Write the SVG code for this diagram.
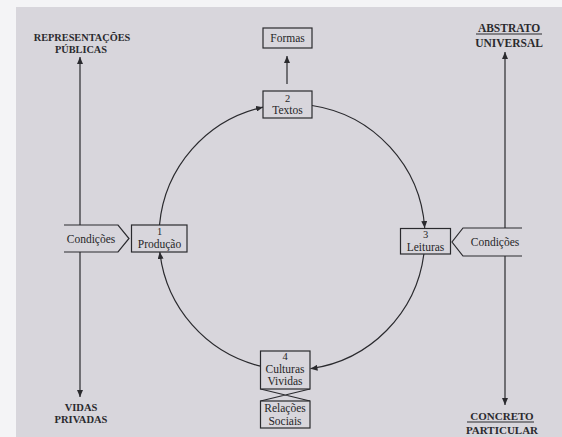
<svg xmlns="http://www.w3.org/2000/svg" width="562" height="437" viewBox="0 0 562 437">
<style>
.ln{fill:none;stroke:#2a2a2e;stroke-width:1.2}
.bx{fill:#d8d6dc;stroke:#2a2a2e;stroke-width:1.2}
.t{font-family:"Liberation Serif","Times New Roman",serif;font-size:11.5px;fill:#262628;text-anchor:middle}
.n{font-family:"Liberation Serif","Times New Roman",serif;font-size:10.5px;fill:#262628;text-anchor:middle}
.c{font-family:"Liberation Serif","Times New Roman",serif;font-weight:bold;fill:#2a2a2e;text-anchor:middle}
</style>
<defs>
<marker id="ah" markerUnits="userSpaceOnUse" markerWidth="8" markerHeight="6" refX="7" refY="3" orient="auto">
<path d="M0,0 L7,3 L0,6 z" fill="#2a2a2e"/>
</marker>
</defs>
<rect x="0" y="0" width="562" height="437" fill="#f4f4f6"/>
<rect x="16" y="7" width="546" height="430" fill="#d8d6dc"/>

<g id="connectors">
<path class="ln" d="M159.5,225 A133,133 0 0 1 263,107.2" marker-end="url(#ah)"/>
<path class="ln" d="M312,105.5 A133,133 0 0 1 424.7,228" marker-end="url(#ah)"/>
<path class="ln" d="M423.9,254 A133,133 0 0 1 310.5,368.7" marker-end="url(#ah)"/>
<path class="ln" d="M260.5,366.2 A133,133 0 0 1 159.8,252" marker-end="url(#ah)"/>
<path class="ln" d="M287,84 L287,56" marker-end="url(#ah)"/>
<path class="ln" d="M80,225 L80,57" marker-end="url(#ah)"/>
<path class="ln" d="M80,252 L80,397" marker-end="url(#ah)"/>
<path class="ln" d="M505,228 L505,52" marker-end="url(#ah)"/>
<path class="ln" d="M505,256 L505,405" marker-end="url(#ah)"/>
<path class="ln" d="M260.5,389 L310,401 M310,389 L260.5,401"/>
</g>

<g id="representacoes">
<text class="c" x="82" y="41" font-size="10.3">REPRESENTAÇÕES</text>
<text class="c" x="81" y="53" font-size="10.3">PÚBLICAS</text>
</g>
<g id="vidas">
<text class="c" x="81" y="411" font-size="10.5">VIDAS</text>
<text class="c" x="81" y="423" font-size="10.5">PRIVADAS</text>
</g>
<g id="abstrato">
<text class="c" x="509" y="32" font-size="11.5">ABSTRATO</text>
<line class="ln" x1="476" y1="34" x2="542" y2="34"/>
<text class="c" x="509" y="47" font-size="11.5">UNIVERSAL</text>
</g>
<g id="concreto">
<text class="c" x="502" y="420" font-size="11">CONCRETO</text>
<line class="ln" x1="467" y1="422" x2="534" y2="422"/>
<text class="c" x="502" y="434" font-size="11">PARTICULAR</text>
</g>

<g id="formas">
<rect class="bx" x="263" y="28" width="49" height="20"/>
<text class="t" x="287.5" y="42">Formas</text>
</g>
<g id="textos">
<rect class="bx" x="263" y="91" width="49" height="27"/>
<text class="n" x="287.5" y="101.5">2</text>
<text class="t" x="287.5" y="114.2">Textos</text>
</g>
<g id="producao">
<rect class="bx" x="131.5" y="225" width="55.5" height="27"/>
<text class="n" x="159.5" y="234.8">1</text>
<text class="t" x="159.5" y="247.5">Produção</text>
</g>
<g id="leituras">
<rect class="bx" x="400.5" y="228.5" width="50" height="25.5"/>
<text class="n" x="425.5" y="237.8">3</text>
<text class="t" x="425.5" y="250.5">Leituras</text>
</g>
<g id="culturas">
<rect class="bx" x="260.5" y="351" width="49.5" height="38"/>
<text class="n" x="285" y="359.8">4</text>
<text class="t" x="285" y="372.5">Culturas</text>
<text class="t" x="285" y="385.4">Vividas</text>
</g>
<g id="relacoes">
<rect class="bx" x="260.5" y="401" width="49.5" height="27"/>
<text class="t" x="285" y="412">Relações</text>
<text class="t" x="285" y="424.9">Sociais</text>
</g>
<g id="condicoes-esq">
<path d="M64,225 L118,225 L129,238.5 L118,252 L64,252 Z" fill="#d8d6dc"/>
<path class="ln" d="M64,225 L118,225 L129,238.5 L118,252 L64,252"/>
<text class="t" x="91" y="242.5" font-size="12">Condições</text>
</g>
<g id="condicoes-dir">
<path d="M522,228 L463,228 L452,242 L463,256 L522,256 Z" fill="#d8d6dc"/>
<path class="ln" d="M522,228 L463,228 L452,242 L463,256 L522,256"/>
<text class="t" x="495" y="246" font-size="12">Condições</text>
</g>
</svg>
